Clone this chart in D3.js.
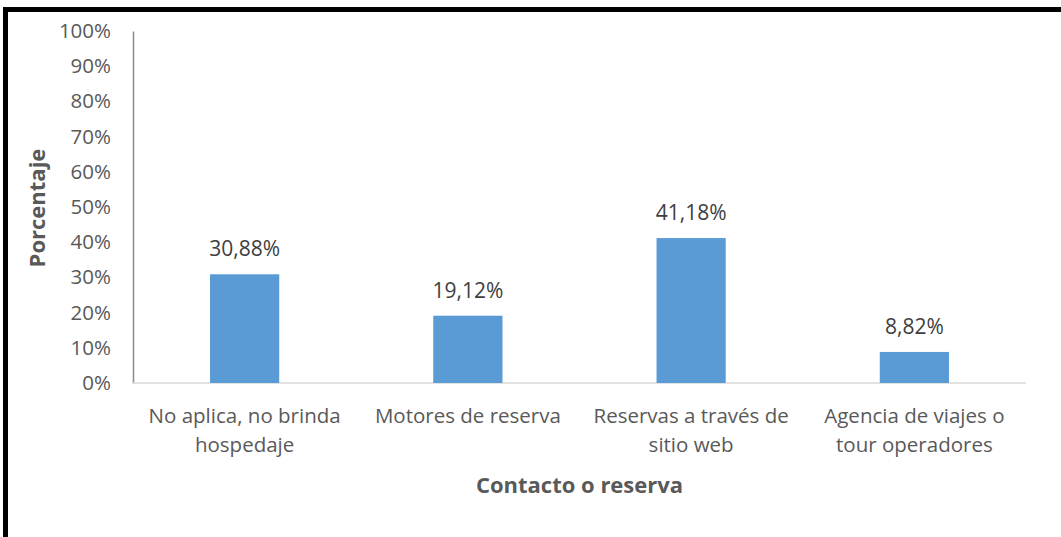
<!DOCTYPE html>
<html>
<head>
<meta charset="utf-8">
<script src="https://cdn.jsdelivr.net/npm/d3@7"></script>
<style>
  html, body { margin: 0; padding: 0; background: #fff; }
  svg { display: block; }
  text { font-family: "Open Sans", "Liberation Sans", sans-serif; }
</style>
</head>
<body>
<svg id="chart" width="1061" height="537"></svg>
<script>
// Share of lodging businesses by contact / booking channel
const categories = [
  ["No aplica, no brinda", "hospedaje"],
  ["Motores de reserva"],
  ["Reservas a través de", "sitio web"],
  ["Agencia de viajes o", "tour operadores"]
];
const values = [30.88, 19.12, 41.18, 8.82];
const valueLabels = ["30,88%", "19,12%", "41,18%", "8,82%"];
const yTicks = [0, 10, 20, 30, 40, 50, 60, 70, 80, 90, 100];

const svg = d3.select("#chart");
const W = 1061, H = 537;
const margin = { left: 133, right: 35, top: 31, bottom: 154 };
const innerW = W - margin.left - margin.right;
const innerH = H - margin.top - margin.bottom;

// frame
svg.append("rect").attr("x", 0).attr("y", 0).attr("width", W).attr("height", H).attr("fill", "#fff");
svg.append("line").attr("x1", 5.5).attr("x2", 5.5).attr("y1", 7).attr("y2", H).attr("stroke", "#000").attr("stroke-width", 5);
svg.append("line").attr("x1", 3).attr("x2", W).attr("y1", 9.5).attr("y2", 9.5).attr("stroke", "#000").attr("stroke-width", 5);

const g = svg.append("g").attr("transform", `translate(${margin.left},${margin.top})`);

const x = d3.scaleBand().domain(d3.range(categories.length)).range([0, innerW]).paddingInner(0.69).paddingOuter(0.345);
const y = d3.scaleLinear().domain([0, 100]).range([innerH, 0]);

// y axis
const yAxis = d3.axisLeft(y).tickValues(yTicks).tickSize(0).tickPadding(22).tickFormat(d => d + "%");
const ya = g.append("g").call(yAxis);
ya.select(".domain").attr("stroke", "#8c8c8c").attr("stroke-width", 1.5);
ya.selectAll("text").attr("fill", "#595959").style("font-size", "20.5px");

// x axis baseline
g.append("line").attr("x1", 0).attr("x2", innerW).attr("y1", y(0)).attr("y2", y(0))
  .attr("stroke", "#d9d9d9").attr("stroke-width", 1.5);

// bars
g.selectAll("rect.bar").data(values).join("rect").attr("class", "bar")
  .attr("x", (d, i) => x(i)).attr("width", x.bandwidth())
  .attr("y", d => y(d)).attr("height", d => y(0) - y(d))
  .attr("fill", "#5b9bd5");

// value labels
g.selectAll("text.val").data(values).join("text").attr("class", "val")
  .attr("x", (d, i) => x(i) + x.bandwidth() / 2).attr("y", d => y(d) - 18)
  .attr("text-anchor", "middle").attr("fill", "#404040").style("font-size", "21px")
  .text((d, i) => valueLabels[i]);

// category labels
const cat = g.selectAll("text.cat").data(categories).join("text").attr("class", "cat")
  .attr("x", (d, i) => x(i) + x.bandwidth() / 2).attr("y", innerH + 40)
  .attr("text-anchor", "middle").attr("fill", "#595959").style("font-size", "20.5px");
cat.selectAll("tspan").data(d => d).join("tspan")
  .attr("x", function () { return d3.select(this.parentNode).attr("x"); })
  .attr("dy", (d, i) => i === 0 ? 0 : 29)
  .text(d => d);

// axis titles
g.append("text").attr("x", innerW / 2).attr("y", innerH + 110).attr("text-anchor", "middle")
  .attr("fill", "#595959").style("font-size", "22px").style("font-weight", "bold").text("Contacto o reserva");
g.append("text").attr("transform", `translate(${37 - margin.left},${208 - margin.top}) rotate(-90)`)
  .attr("text-anchor", "middle").attr("dy", "0.35em")
  .attr("fill", "#595959").style("font-size", "22px").style("font-weight", "bold").text("Porcentaje");
</script>
</body>
</html>
